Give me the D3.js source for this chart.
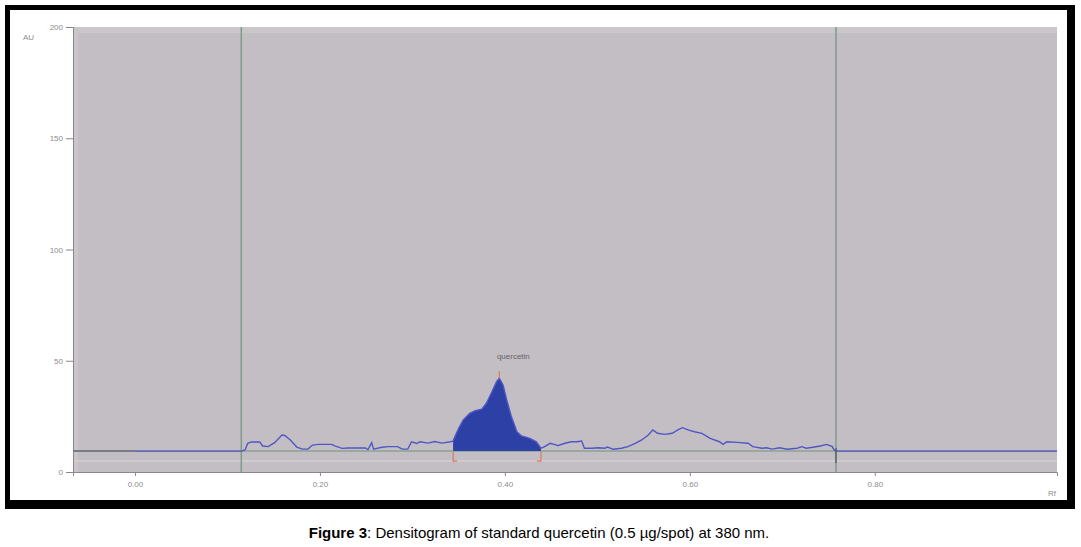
<!DOCTYPE html>
<html>
<head>
<meta charset="utf-8">
<script src="https://cdn.jsdelivr.net/npm/d3@7"></script>
<style>
  body { margin: 0; background: #fff; }
  text { font-family: "Liberation Sans", Arial, sans-serif; }
</style>
</head>
<body>
<svg width="1081" height="547"></svg>
<script>
// densitogram trace (Rf, AU)
var rf = [0.115, 0.119, 0.122, 0.126, 0.135, 0.138, 0.144, 0.151, 0.159, 0.162, 0.168, 0.175, 0.181, 0.187, 0.192, 0.198,
  0.213, 0.216, 0.224, 0.230, 0.249, 0.252, 0.256, 0.258, 0.267, 0.274, 0.284, 0.289, 0.295, 0.299, 0.305, 0.308,
  0.317, 0.324, 0.332, 0.341, 0.344, 0.346, 0.350, 0.355, 0.362, 0.368, 0.375, 0.380, 0.386, 0.391, 0.394, 0.398,
  0.402, 0.407, 0.413, 0.418, 0.427, 0.434, 0.439, 0.442, 0.449, 0.456, 0.457, 0.465, 0.472, 0.478, 0.483, 0.486,
  0.494, 0.501, 0.508, 0.511, 0.517, 0.526, 0.533, 0.541, 0.548, 0.555, 0.560, 0.565, 0.573, 0.581, 0.587, 0.592,
  0.598, 0.605, 0.613, 0.622, 0.632, 0.636, 0.640, 0.651, 0.663, 0.668, 0.678, 0.683, 0.689, 0.697, 0.705, 0.716,
  0.721, 0.726, 0.733, 0.741, 0.748, 0.754, 0.756, 0.758];
var au = [9.4, 9.9, 12.9, 13.5, 13.5, 11.7, 11.4, 13.2, 16.6, 16.4, 14.4, 11.2, 10.3, 10.3, 12.1, 12.4,
  12.4, 11.7, 10.6, 10.8, 10.8, 10.1, 13.2, 10.3, 11.1, 11.4, 11.4, 10.3, 10.3, 13.6, 12.8, 13.6,
  13.0, 13.7, 13.0, 13.6, 13.9, 15.9, 19.6, 23.4, 26.4, 27.6, 28.2, 30.9, 36.1, 40.6, 42.1, 39.1,
  32.4, 24.9, 18.1, 16.2, 15.1, 13.6, 10.7, 11.2, 12.9, 12.1, 11.8, 12.9, 13.6, 13.6, 13.9, 10.7,
  10.7, 10.9, 10.7, 11.2, 10.2, 10.7, 11.4, 12.9, 14.4, 16.6, 18.9, 17.4, 16.9, 17.4, 18.9, 19.9,
  18.9, 18.1, 17.4, 15.1, 13.6, 12.4, 13.6, 13.3, 12.9, 11.4, 10.7, 10.9, 10.3, 10.9, 10.2, 10.7,
  11.4, 10.7, 11.1, 11.7, 12.4, 11.4, 9.9, 9.4];

var baseline = 9.4;
var trackStart = 0.115, trackEnd = 0.758;   // green start/end lines
var peakName = "quercetin";
var peakStart = 0.344, peakTop = 0.394, peakEnd = 0.439;

var yTicks = [0, 50, 100, 150, 200];
var xTicks = [0.0, 0.2, 0.4, 0.6, 0.8];

var svg = d3.select("svg");

var x = d3.scaleLinear().domain([-0.067, 0.997]).range([73, 1057]);
var y = d3.scaleLinear().domain([0, 200]).range([472, 27]);

// black picture frame
svg.append("rect").attr("x", 5).attr("y", 5).attr("width", 1070).attr("height", 504).attr("fill", "#000");
svg.append("rect").attr("x", 10).attr("y", 10).attr("width", 1057).attr("height", 490).attr("fill", "#fff");

// plot background
svg.append("rect")
    .attr("x", x.range()[0]).attr("y", y(200))
    .attr("width", x.range()[1] - x.range()[0]).attr("height", y(0) - y(200))
    .attr("fill", "#c3bec3");
svg.append("rect")
    .attr("x", x.range()[0]).attr("y", y(200))
    .attr("width", x.range()[1] - x.range()[0]).attr("height", 6)
    .attr("fill", "#cac6ca");
svg.append("rect")
    .attr("x", x.range()[0]).attr("y", y(200))
    .attr("width", 5).attr("height", y(0) - y(200))
    .attr("fill", "#c9c5c9");
svg.append("line")
    .attr("x1", x.range()[0]).attr("x2", x.range()[1])
    .attr("y1", y(0) - 11).attr("y2", y(0) - 11)
    .attr("stroke", "#cfcbcf").attr("stroke-width", 2);

// axes
var yAxis = d3.axisLeft(y)
    .tickValues(yTicks)
    .tickSize(7)
    .tickPadding(3)
    .tickFormat(function(d) { return d; });

var xAxis = d3.axisBottom(x)
    .tickValues(xTicks)
    .tickSize(4)
    .tickPadding(5)
    .tickFormat(d3.format(".2f"));

var gy = svg.append("g")
    .attr("transform", "translate(" + x.range()[0] + ",0)")
    .call(yAxis);
var gx = svg.append("g")
    .attr("transform", "translate(0," + y(0) + ")")
    .call(xAxis);

[gx, gy].forEach(function(g) {
  g.select(".domain").attr("stroke", "#8a868a");
  g.selectAll(".tick line").attr("stroke", "#8a868a");
  g.selectAll(".tick text").attr("fill", "#8c8c8c").attr("font-size", 8);
});

svg.append("text").attr("x", 23).attr("y", 40).attr("font-size", 8).attr("fill", "#8c8c8c").text("AU");
svg.append("text").attr("x", 1048).attr("y", 496).attr("font-size", 8).attr("fill", "#8c8c8c").text("Rf");

// baseline
svg.append("line")
    .attr("x1", x.range()[0]).attr("x2", x.range()[1])
    .attr("y1", y(baseline)).attr("y2", y(baseline))
    .attr("stroke", "#8ca294").attr("stroke-width", 1.5);
svg.append("line")
    .attr("x1", x.range()[0]).attr("x2", x(0))
    .attr("y1", y(baseline)).attr("y2", y(baseline))
    .attr("stroke", "#6e6e78").attr("stroke-width", 1.5);

// start / end lines
svg.selectAll(".track")
  .data([trackStart, trackEnd])
  .enter().append("line")
    .attr("class", "track")
    .attr("x1", function(d) { return x(d); }).attr("x2", function(d) { return x(d); })
    .attr("y1", y(200)).attr("y2", y(0))
    .attr("stroke", "#7c9c8c").attr("stroke-width", 1.5);

var pts = rf.map(function(d, i) { return [d, au[i]]; });
var full = [[0, baseline], [trackStart, baseline]].concat(pts).concat([[x.domain()[1], baseline]]);

// integrated peak
var peakPts = pts.filter(function(d) { return d[0] >= peakStart && d[0] <= peakEnd; });
var area = d3.area()
    .x(function(d) { return x(d[0]); })
    .y0(y(baseline))
    .y1(function(d) { return y(d[1]); });
svg.append("path")
    .datum(peakPts)
    .attr("d", area)
    .attr("fill", "#2c40a6");

var line = d3.line()
    .x(function(d) { return x(d[0]); })
    .y(function(d) { return y(d[1]); });
svg.append("path")
    .datum(full)
    .attr("d", line)
    .attr("fill", "none")
    .attr("stroke", "#5057c4")
    .attr("stroke-width", 1.4);

// end mark
svg.append("line")
    .attr("x1", x(trackEnd)).attr("x2", x(trackEnd))
    .attr("y1", y(baseline) - 3).attr("y2", y(baseline) + 12)
    .attr("stroke", "#555").attr("stroke-width", 1.2);

// peak markers (red)
var red = "#e0785a";
svg.append("path")
    .attr("d", "M" + x(peakStart) + "," + (y(baseline) + 1) + "V" + (y(baseline) + 10) + "h4")
    .attr("fill", "none").attr("stroke", red).attr("stroke-width", 1.2);
svg.append("path")
    .attr("d", "M" + x(peakEnd) + "," + (y(baseline) + 1) + "V" + (y(baseline) + 10) + "h-4")
    .attr("fill", "none").attr("stroke", red).attr("stroke-width", 1.2);
svg.append("line")
    .attr("x1", x(peakTop)).attr("x2", x(peakTop))
    .attr("y1", y(42.1) - 7).attr("y2", y(42.1))
    .attr("stroke", red).attr("stroke-width", 1.2);
svg.append("text")
    .attr("x", x(peakTop) + 14).attr("y", y(42.1) - 19)
    .attr("text-anchor", "middle").attr("font-size", 8).attr("fill", "#666")
    .text(peakName);

// caption
var cap = svg.append("text")
    .attr("x", 539).attr("y", 538)
    .attr("text-anchor", "middle").attr("font-size", 15).attr("fill", "#000");
cap.append("tspan").attr("font-weight", "bold").text("Figure 3");
cap.append("tspan").text(": Densitogram of standard quercetin (0.5 µg/spot) at 380 nm.");
</script>
</body>
</html>
